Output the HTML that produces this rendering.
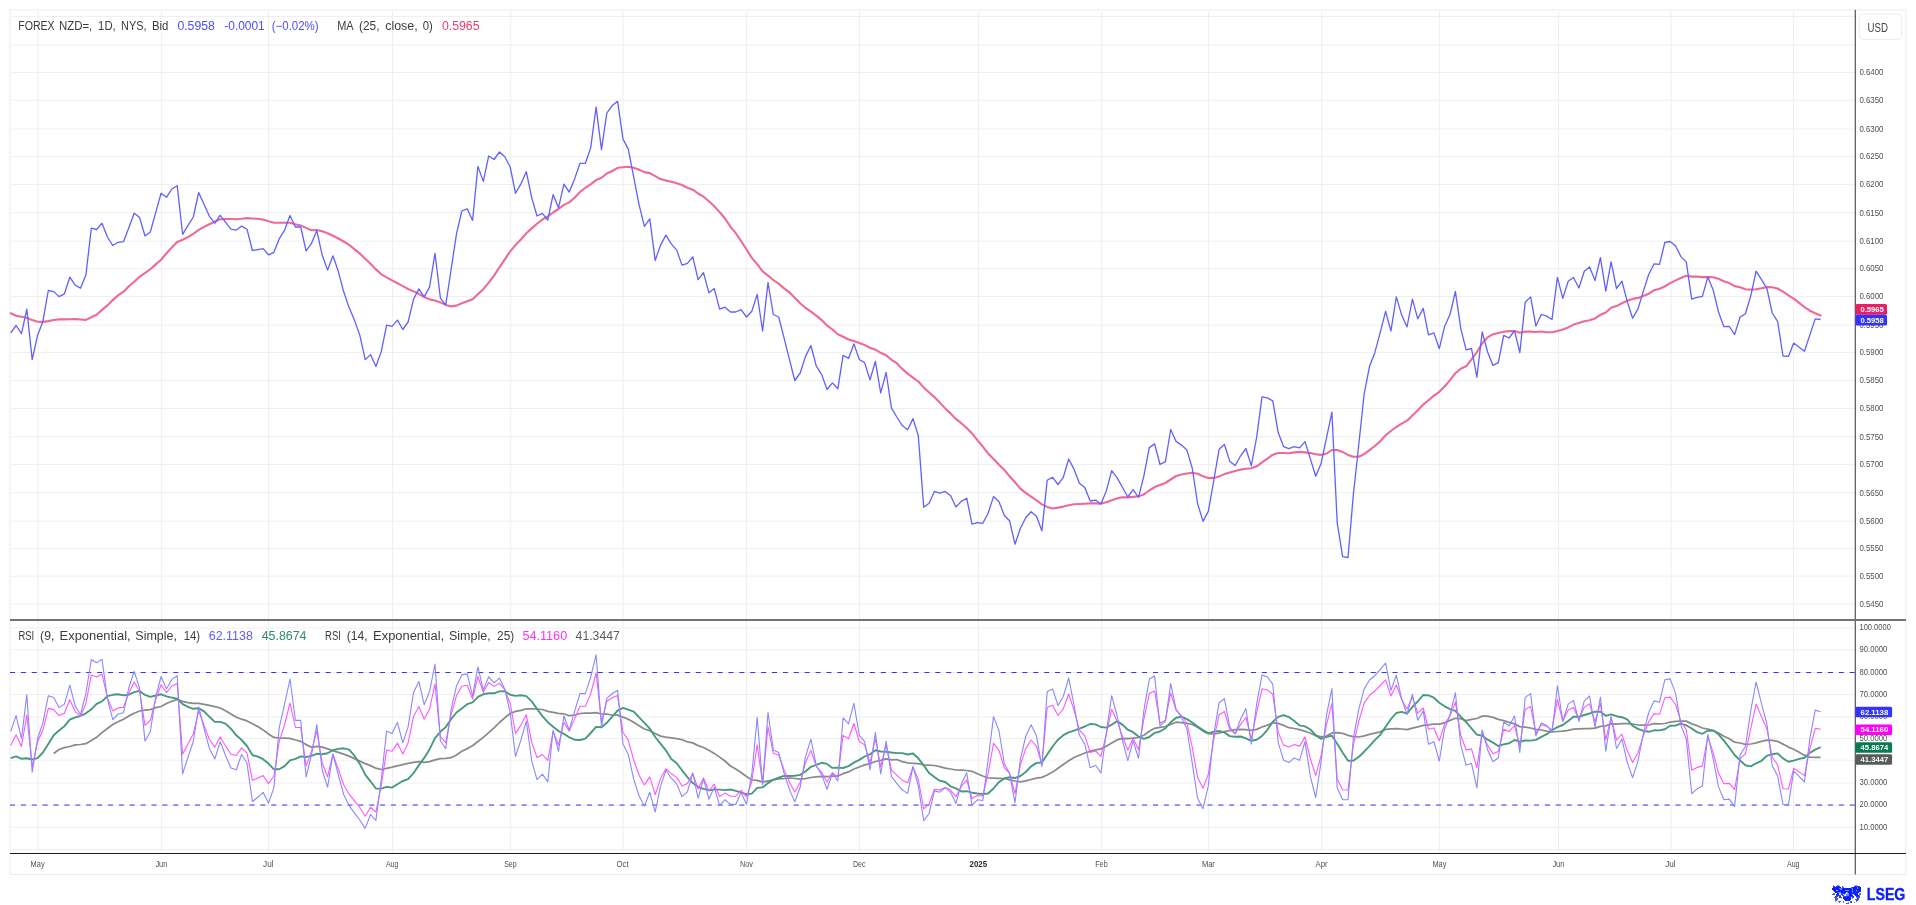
<!DOCTYPE html>
<html><head><meta charset="utf-8"><title>chart</title><style>html,body{margin:0;padding:0;background:#fff;width:1916px;height:905px;overflow:hidden}</style></head><body>
<svg width="1916" height="905" viewBox="0 0 1916 905" style="position:absolute;left:0;top:0;will-change:transform;font-family:'Liberation Sans',sans-serif">
<rect width="1916" height="905" fill="#fff"/>
<rect x="10" y="9.9" width="1895.9" height="864.6" fill="none" stroke="#ececec" stroke-width="1"/>
<line x1="38.1" y1="11" x2="38.1" y2="853" stroke="#efefef" stroke-width="1"/>
<line x1="161.6" y1="11" x2="161.6" y2="853" stroke="#efefef" stroke-width="1"/>
<line x1="268.5" y1="11" x2="268.5" y2="853" stroke="#efefef" stroke-width="1"/>
<line x1="392.5" y1="11" x2="392.5" y2="853" stroke="#efefef" stroke-width="1"/>
<line x1="510.7" y1="11" x2="510.7" y2="853" stroke="#efefef" stroke-width="1"/>
<line x1="623.0" y1="11" x2="623.0" y2="853" stroke="#efefef" stroke-width="1"/>
<line x1="746.6" y1="11" x2="746.6" y2="853" stroke="#efefef" stroke-width="1"/>
<line x1="859.5" y1="11" x2="859.5" y2="853" stroke="#efefef" stroke-width="1"/>
<line x1="978.6" y1="11" x2="978.6" y2="853" stroke="#efefef" stroke-width="1"/>
<line x1="1101.7" y1="11" x2="1101.7" y2="853" stroke="#efefef" stroke-width="1"/>
<line x1="1208.6" y1="11" x2="1208.6" y2="853" stroke="#efefef" stroke-width="1"/>
<line x1="1321.7" y1="11" x2="1321.7" y2="853" stroke="#efefef" stroke-width="1"/>
<line x1="1439.6" y1="11" x2="1439.6" y2="853" stroke="#efefef" stroke-width="1"/>
<line x1="1558.6" y1="11" x2="1558.6" y2="853" stroke="#efefef" stroke-width="1"/>
<line x1="1671.0" y1="11" x2="1671.0" y2="853" stroke="#efefef" stroke-width="1"/>
<line x1="1793.5" y1="11" x2="1793.5" y2="853" stroke="#efefef" stroke-width="1"/>
<line x1="11" y1="16.40" x2="1855" y2="16.40" stroke="#efefef" stroke-width="1"/>
<line x1="11" y1="45.00" x2="1855" y2="45.00" stroke="#efefef" stroke-width="1"/>
<line x1="11" y1="72.50" x2="1855" y2="72.50" stroke="#efefef" stroke-width="1"/>
<line x1="11" y1="100.25" x2="1855" y2="100.25" stroke="#efefef" stroke-width="1"/>
<line x1="11" y1="129.05" x2="1855" y2="129.05" stroke="#efefef" stroke-width="1"/>
<line x1="11" y1="156.60" x2="1855" y2="156.60" stroke="#efefef" stroke-width="1"/>
<line x1="11" y1="184.60" x2="1855" y2="184.60" stroke="#efefef" stroke-width="1"/>
<line x1="11" y1="212.70" x2="1855" y2="212.70" stroke="#efefef" stroke-width="1"/>
<line x1="11" y1="241.20" x2="1855" y2="241.20" stroke="#efefef" stroke-width="1"/>
<line x1="11" y1="268.65" x2="1855" y2="268.65" stroke="#efefef" stroke-width="1"/>
<line x1="11" y1="296.50" x2="1855" y2="296.50" stroke="#efefef" stroke-width="1"/>
<line x1="11" y1="325.20" x2="1855" y2="325.20" stroke="#efefef" stroke-width="1"/>
<line x1="11" y1="352.40" x2="1855" y2="352.40" stroke="#efefef" stroke-width="1"/>
<line x1="11" y1="380.50" x2="1855" y2="380.50" stroke="#efefef" stroke-width="1"/>
<line x1="11" y1="408.50" x2="1855" y2="408.50" stroke="#efefef" stroke-width="1"/>
<line x1="11" y1="436.70" x2="1855" y2="436.70" stroke="#efefef" stroke-width="1"/>
<line x1="11" y1="464.60" x2="1855" y2="464.60" stroke="#efefef" stroke-width="1"/>
<line x1="11" y1="492.70" x2="1855" y2="492.70" stroke="#efefef" stroke-width="1"/>
<line x1="11" y1="521.20" x2="1855" y2="521.20" stroke="#efefef" stroke-width="1"/>
<line x1="11" y1="548.40" x2="1855" y2="548.40" stroke="#efefef" stroke-width="1"/>
<line x1="11" y1="576.20" x2="1855" y2="576.20" stroke="#efefef" stroke-width="1"/>
<line x1="11" y1="603.90" x2="1855" y2="603.90" stroke="#efefef" stroke-width="1"/>
<line x1="11" y1="849.5" x2="1855" y2="849.5" stroke="#efefef" stroke-width="1"/>
<line x1="11" y1="827.3" x2="1855" y2="827.3" stroke="#efefef" stroke-width="1"/>
<line x1="11" y1="783.0" x2="1855" y2="783.0" stroke="#efefef" stroke-width="1"/>
<line x1="11" y1="760.2" x2="1855" y2="760.2" stroke="#efefef" stroke-width="1"/>
<line x1="11" y1="738.5" x2="1855" y2="738.5" stroke="#efefef" stroke-width="1"/>
<line x1="11" y1="716.9" x2="1855" y2="716.9" stroke="#efefef" stroke-width="1"/>
<line x1="11" y1="694.5" x2="1855" y2="694.5" stroke="#efefef" stroke-width="1"/>
<line x1="11" y1="649.7" x2="1855" y2="649.7" stroke="#efefef" stroke-width="1"/>
<line x1="11" y1="627.9" x2="1855" y2="627.9" stroke="#efefef" stroke-width="1"/>
<line x1="11" y1="805.05" x2="1855" y2="805.05" stroke="#efefef" stroke-width="1"/>
<line x1="10" y1="805.05" x2="1855" y2="805.05" stroke="#3333ff" stroke-width="1" stroke-dasharray="5 5.886"/>
<line x1="11" y1="672.50" x2="1855" y2="672.50" stroke="#efefef" stroke-width="1"/>
<line x1="10" y1="672.50" x2="1855" y2="672.50" stroke="#3333ff" stroke-width="1" stroke-dasharray="5 5.886"/>
<path d="M53.7 753.5 L59.0 749.5 L64.4 747.7 L69.8 746.5 L75.2 744.8 L80.5 744.5 L85.9 743.7 L91.3 740.5 L96.6 737.3 L102.0 732.6 L107.4 728.5 L112.8 724.5 L118.1 721.8 L123.5 719.3 L128.9 715.9 L134.2 713.2 L139.6 711.0 L145.0 710.2 L150.3 709.6 L155.7 707.7 L161.1 706.5 L166.5 703.5 L171.8 701.3 L177.2 699.5 L182.6 701.3 L187.9 702.6 L193.3 703.4 L198.7 703.3 L204.1 704.3 L209.4 705.4 L214.8 706.7 L220.2 708.0 L225.5 710.8 L230.9 713.9 L236.3 717.2 L241.6 719.2 L247.0 720.9 L252.4 723.8 L257.8 726.6 L263.1 729.9 L268.5 734.0 L273.9 737.4 L279.2 738.0 L284.6 738.2 L290.0 738.3 L295.4 740.0 L300.7 741.4 L306.1 744.6 L311.5 747.3 L316.8 746.4 L322.2 747.2 L327.6 748.9 L332.9 750.6 L338.3 752.4 L343.7 754.2 L349.1 756.1 L354.4 758.6 L359.8 761.1 L365.2 763.6 L370.5 765.6 L375.9 768.2 L381.3 769.5 L386.6 768.3 L392.0 767.2 L397.4 765.9 L402.8 764.7 L408.1 763.4 L413.5 762.4 L418.9 761.7 L424.2 762.3 L429.6 761.6 L435.0 759.8 L440.4 758.7 L445.7 758.3 L451.1 757.7 L456.5 755.0 L461.8 751.3 L467.2 748.6 L472.6 745.8 L477.9 741.5 L483.3 737.4 L488.7 732.7 L494.1 727.8 L499.4 722.5 L504.8 717.8 L510.2 713.5 L515.5 711.4 L520.9 710.4 L526.3 708.9 L531.7 708.9 L537.0 709.0 L542.4 709.5 L547.8 711.3 L553.1 712.3 L558.5 713.3 L563.9 713.8 L569.2 715.7 L574.6 715.0 L580.0 713.5 L585.4 713.2 L590.7 713.1 L596.1 712.6 L601.5 714.0 L606.8 714.1 L612.2 715.0 L617.6 715.1 L623.0 717.1 L628.3 719.2 L633.7 722.3 L639.1 725.7 L644.4 729.0 L649.8 730.7 L655.2 733.5 L660.5 736.1 L665.9 737.1 L671.3 737.8 L676.7 738.7 L682.0 739.7 L687.4 741.8 L692.8 742.9 L698.1 745.6 L703.5 747.5 L708.9 750.3 L714.3 753.4 L719.6 757.1 L725.0 761.0 L730.4 766.0 L735.7 768.9 L741.1 772.5 L746.5 776.5 L751.8 779.9 L757.2 780.4 L762.6 782.2 L768.0 780.8 L773.3 780.0 L778.7 778.8 L784.1 778.5 L789.4 778.0 L794.8 778.5 L800.2 779.1 L805.5 778.6 L810.9 777.5 L816.3 776.8 L821.7 776.3 L827.0 776.7 L832.4 776.0 L837.8 776.0 L843.1 773.7 L848.5 771.9 L853.9 769.0 L859.3 767.0 L864.6 764.9 L870.0 763.6 L875.4 761.5 L880.7 760.3 L886.1 758.8 L891.5 759.8 L896.8 759.5 L902.2 761.6 L907.6 762.8 L913.0 763.3 L918.3 763.7 L923.7 764.8 L929.1 765.2 L934.4 765.5 L939.8 766.6 L945.2 768.1 L950.6 769.0 L955.9 770.0 L961.3 770.2 L966.7 770.5 L972.0 771.3 L977.4 773.7 L982.8 776.0 L988.1 778.0 L993.5 778.1 L998.9 778.3 L1004.3 778.5 L1009.6 779.9 L1015.0 781.0 L1020.4 781.8 L1025.7 780.9 L1031.1 779.5 L1036.5 778.1 L1041.9 777.4 L1047.2 775.0 L1052.6 772.1 L1058.0 768.3 L1063.3 764.5 L1068.7 760.7 L1074.1 757.5 L1079.4 755.2 L1084.8 753.0 L1090.2 751.3 L1095.6 749.9 L1100.9 748.9 L1106.3 746.3 L1111.7 742.9 L1117.0 739.9 L1122.4 738.4 L1127.8 738.7 L1133.1 738.2 L1138.5 737.5 L1143.9 735.3 L1149.3 731.3 L1154.6 728.3 L1160.0 727.3 L1165.4 726.5 L1170.7 724.4 L1176.1 722.2 L1181.5 722.6 L1186.9 723.3 L1192.2 724.5 L1197.6 727.3 L1203.0 731.1 L1208.3 733.6 L1213.7 734.0 L1219.1 733.1 L1224.4 731.5 L1229.8 730.7 L1235.2 729.7 L1240.6 729.3 L1245.9 729.7 L1251.3 730.4 L1256.7 729.4 L1262.0 727.0 L1267.4 725.1 L1272.8 722.8 L1278.2 723.4 L1283.5 725.4 L1288.9 727.7 L1294.3 728.5 L1299.6 729.6 L1305.0 731.3 L1310.4 733.3 L1315.7 735.6 L1321.1 736.9 L1326.5 736.1 L1331.9 733.1 L1337.2 732.7 L1342.6 733.3 L1348.0 735.4 L1353.3 736.6 L1358.7 737.0 L1364.1 735.9 L1369.5 734.4 L1374.8 733.1 L1380.2 731.8 L1385.6 729.4 L1390.9 728.8 L1396.3 728.6 L1401.7 729.0 L1407.0 729.6 L1412.4 728.2 L1417.8 726.9 L1423.2 725.4 L1428.5 724.8 L1433.9 724.0 L1439.3 724.2 L1444.6 722.8 L1450.0 720.4 L1455.4 718.3 L1460.7 718.7 L1466.1 720.6 L1471.5 719.4 L1476.9 718.5 L1482.2 716.1 L1487.6 716.1 L1493.0 717.4 L1498.3 719.4 L1503.7 720.7 L1509.1 722.3 L1514.5 723.9 L1519.8 726.6 L1525.2 727.1 L1530.6 728.0 L1535.9 729.3 L1541.3 730.0 L1546.7 731.1 L1552.0 731.8 L1557.4 731.5 L1562.8 731.1 L1568.2 730.4 L1573.5 729.1 L1578.9 728.9 L1584.3 728.6 L1589.6 728.6 L1595.0 728.1 L1600.4 726.3 L1605.8 725.9 L1611.1 723.9 L1616.5 724.2 L1621.9 723.7 L1627.2 723.6 L1632.6 724.0 L1638.0 725.0 L1643.3 725.1 L1648.7 725.0 L1654.1 723.7 L1659.5 723.9 L1664.8 723.5 L1670.2 722.1 L1675.6 721.3 L1680.9 721.1 L1686.3 721.1 L1691.7 723.9 L1697.1 725.7 L1702.4 728.0 L1707.8 729.1 L1713.2 730.5 L1718.5 733.1 L1723.9 736.3 L1729.3 738.8 L1734.6 742.2 L1740.0 743.0 L1745.4 744.4 L1750.8 744.0 L1756.1 742.8 L1761.5 741.4 L1766.9 740.1 L1772.2 740.3 L1777.6 741.4 L1783.0 744.1 L1788.4 747.1 L1793.7 749.3 L1799.1 752.2 L1804.5 755.4 L1809.8 757.2 L1815.2 757.4 L1820.6 757.4" fill="none" stroke="#8a8a8a" stroke-width="1.75" stroke-linejoin="round"/>
<path d="M10.7 758.2 L16.1 756.4 L21.5 758.8 L26.8 758.3 L32.2 759.5 L37.6 758.1 L42.9 752.5 L48.3 744.1 L53.7 735.3 L59.0 730.5 L64.4 726.2 L69.8 719.6 L75.2 717.4 L80.5 716.0 L85.9 713.3 L91.3 709.3 L96.6 703.9 L102.0 701.4 L107.4 696.2 L112.8 694.8 L118.1 694.2 L123.5 695.4 L128.9 694.7 L134.2 692.1 L139.6 690.9 L145.0 694.9 L150.3 696.8 L155.7 695.5 L161.1 694.3 L166.5 696.4 L171.8 697.6 L177.2 698.7 L182.6 704.1 L187.9 706.8 L193.3 708.8 L198.7 708.3 L204.1 711.3 L209.4 716.8 L214.8 721.9 L220.2 721.9 L225.5 723.6 L230.9 728.7 L236.3 735.3 L241.6 740.0 L247.0 746.0 L252.4 755.0 L257.8 756.7 L263.1 759.2 L268.5 763.6 L273.9 769.3 L279.2 769.2 L284.6 766.1 L290.0 760.4 L295.4 758.8 L300.7 756.4 L306.1 757.0 L311.5 755.9 L316.8 753.8 L322.2 754.3 L327.6 753.3 L332.9 750.2 L338.3 748.9 L343.7 748.3 L349.1 749.6 L354.4 755.7 L359.8 763.9 L365.2 774.6 L370.5 781.3 L375.9 788.5 L381.3 788.6 L386.6 786.9 L392.0 787.6 L397.4 784.2 L402.8 781.0 L408.1 779.1 L413.5 773.2 L418.9 765.1 L424.2 757.9 L429.6 749.2 L435.0 738.1 L440.4 731.8 L445.7 727.1 L451.1 719.2 L456.5 712.5 L461.8 708.5 L467.2 704.2 L472.6 702.4 L477.9 696.9 L483.3 694.3 L488.7 693.2 L494.1 693.3 L499.4 691.4 L504.8 691.3 L510.2 694.7 L515.5 695.9 L520.9 695.3 L526.3 696.1 L531.7 701.4 L537.0 708.9 L542.4 716.1 L547.8 722.2 L553.1 726.7 L558.5 731.1 L563.9 733.9 L569.2 737.3 L574.6 739.7 L580.0 740.0 L585.4 738.6 L590.7 733.0 L596.1 726.9 L601.5 727.2 L606.8 722.8 L612.2 716.6 L617.6 710.7 L623.0 707.9 L628.3 709.7 L633.7 711.6 L639.1 717.4 L644.4 722.8 L649.8 728.6 L655.2 737.0 L660.5 743.6 L665.9 750.3 L671.3 759.1 L676.7 763.2 L682.0 770.2 L687.4 777.2 L692.8 783.1 L698.1 787.0 L703.5 788.8 L708.9 790.2 L714.3 789.6 L719.6 789.6 L725.0 790.1 L730.4 789.5 L735.7 790.8 L741.1 792.4 L746.5 794.3 L751.8 793.6 L757.2 787.9 L762.6 787.4 L768.0 783.1 L773.3 779.6 L778.7 777.7 L784.1 775.9 L789.4 776.0 L794.8 775.8 L800.2 774.9 L805.5 771.5 L810.9 766.8 L816.3 764.9 L821.7 762.8 L827.0 763.9 L832.4 767.9 L837.8 767.6 L843.1 768.0 L848.5 766.1 L853.9 762.6 L859.3 759.9 L864.6 756.5 L870.0 754.2 L875.4 750.3 L880.7 751.5 L886.1 751.7 L891.5 752.5 L896.8 753.1 L902.2 753.1 L907.6 754.5 L913.0 753.5 L918.3 758.3 L923.7 765.3 L929.1 773.1 L934.4 777.1 L939.8 780.7 L945.2 782.0 L950.6 786.3 L955.9 788.4 L961.3 791.5 L966.7 791.2 L972.0 792.7 L977.4 793.5 L982.8 794.0 L988.1 793.5 L993.5 788.5 L998.9 782.1 L1004.3 778.5 L1009.6 777.3 L1015.0 778.0 L1020.4 776.0 L1025.7 772.0 L1031.1 766.4 L1036.5 762.9 L1041.9 762.5 L1047.2 754.4 L1052.6 746.5 L1058.0 739.7 L1063.3 735.2 L1068.7 732.4 L1074.1 730.6 L1079.4 728.6 L1084.8 726.5 L1090.2 724.0 L1095.6 724.4 L1100.9 727.0 L1106.3 727.6 L1111.7 724.7 L1117.0 721.1 L1122.4 724.6 L1127.8 729.7 L1133.1 732.2 L1138.5 736.6 L1143.9 738.9 L1149.3 737.0 L1154.6 732.8 L1160.0 731.5 L1165.4 728.2 L1170.7 722.3 L1176.1 717.8 L1181.5 716.7 L1186.9 719.1 L1192.2 722.5 L1197.6 726.6 L1203.0 730.0 L1208.3 733.3 L1213.7 731.6 L1219.1 731.0 L1224.4 732.4 L1229.8 736.1 L1235.2 736.7 L1240.6 736.5 L1245.9 738.3 L1251.3 740.8 L1256.7 739.8 L1262.0 735.9 L1267.4 729.8 L1272.8 721.7 L1278.2 716.9 L1283.5 715.1 L1288.9 717.1 L1294.3 721.0 L1299.6 725.4 L1305.0 726.4 L1310.4 729.5 L1315.7 735.1 L1321.1 738.9 L1326.5 736.8 L1331.9 735.8 L1337.2 743.8 L1342.6 752.6 L1348.0 760.8 L1353.3 760.6 L1358.7 757.0 L1364.1 751.7 L1369.5 746.1 L1374.8 740.1 L1380.2 734.9 L1385.6 726.8 L1390.9 719.2 L1396.3 713.0 L1401.7 711.9 L1407.0 713.7 L1412.4 707.0 L1417.8 701.4 L1423.2 695.0 L1428.5 695.4 L1433.9 697.7 L1439.3 702.8 L1444.6 706.3 L1450.0 709.1 L1455.4 710.8 L1460.7 716.6 L1466.1 722.0 L1471.5 728.3 L1476.9 734.6 L1482.2 735.7 L1487.6 739.7 L1493.0 742.6 L1498.3 746.0 L1503.7 744.4 L1509.1 743.3 L1514.5 740.0 L1519.8 741.7 L1525.2 740.5 L1530.6 740.6 L1535.9 739.9 L1541.3 736.9 L1546.7 734.2 L1552.0 730.2 L1557.4 727.1 L1562.8 725.0 L1568.2 720.9 L1573.5 716.8 L1578.9 716.8 L1584.3 715.0 L1589.6 713.5 L1595.0 711.7 L1600.4 711.7 L1605.8 715.8 L1611.1 714.4 L1616.5 716.2 L1621.9 717.2 L1627.2 719.4 L1632.6 725.9 L1638.0 728.8 L1643.3 730.9 L1648.7 731.8 L1654.1 730.3 L1659.5 730.4 L1664.8 729.2 L1670.2 725.8 L1675.6 725.5 L1680.9 723.7 L1686.3 725.3 L1691.7 728.5 L1697.1 732.1 L1702.4 733.8 L1707.8 730.7 L1713.2 730.5 L1718.5 734.3 L1723.9 740.6 L1729.3 747.6 L1734.6 755.0 L1740.0 760.4 L1745.4 765.2 L1750.8 766.4 L1756.1 763.3 L1761.5 760.8 L1766.9 755.8 L1772.2 754.2 L1777.6 753.4 L1783.0 758.4 L1788.4 761.7 L1793.7 760.6 L1799.1 758.9 L1804.5 757.7 L1809.8 752.9 L1815.2 749.6 L1820.6 747.2" fill="none" stroke="#469a7d" stroke-width="1.9" stroke-linejoin="round"/>
<path d="M10.7 745.4 L16.1 734.7 L21.5 746.5 L26.8 715.0 L32.2 766.5 L37.6 741.9 L42.9 730.1 L48.3 708.4 L53.7 709.6 L59.0 715.6 L64.4 713.2 L69.8 699.8 L75.2 711.6 L80.5 716.3 L85.9 703.4 L91.3 675.1 L96.6 677.1 L102.0 674.0 L107.4 697.7 L112.8 710.9 L118.1 707.9 L123.5 707.2 L128.9 693.0 L134.2 681.9 L139.6 691.4 L145.0 725.4 L150.3 720.4 L155.7 699.6 L161.1 684.8 L166.5 692.6 L171.8 686.0 L177.2 683.5 L182.6 754.1 L187.9 743.9 L193.3 733.9 L198.7 710.7 L204.1 725.7 L209.4 739.5 L214.8 747.1 L220.2 737.0 L225.5 745.8 L230.9 754.3 L236.3 755.5 L241.6 747.9 L247.0 753.0 L252.4 780.3 L257.8 778.1 L263.1 775.6 L268.5 783.6 L273.9 776.0 L279.2 741.6 L284.6 724.6 L290.0 703.0 L295.4 727.5 L300.7 727.5 L306.1 765.9 L311.5 751.6 L316.8 730.9 L322.2 763.0 L327.6 776.7 L332.9 754.2 L338.3 769.2 L343.7 784.7 L349.1 794.2 L354.4 800.7 L359.8 807.5 L365.2 816.2 L370.5 807.3 L375.9 812.0 L381.3 785.5 L386.6 750.0 L392.0 751.3 L397.4 743.1 L402.8 753.9 L408.1 743.0 L413.5 716.4 L418.9 706.6 L424.2 719.2 L429.6 708.9 L435.0 684.1 L440.4 736.6 L445.7 742.6 L451.1 714.8 L456.5 695.7 L461.8 686.2 L467.2 685.3 L472.6 699.1 L477.9 676.7 L483.3 692.4 L488.7 682.5 L494.1 686.4 L499.4 683.2 L504.8 689.6 L510.2 703.5 L515.5 733.4 L520.9 725.1 L526.3 714.8 L531.7 742.2 L537.0 757.5 L542.4 754.5 L547.8 760.4 L553.1 731.4 L558.5 745.0 L563.9 722.3 L569.2 731.1 L574.6 718.9 L580.0 706.2 L585.4 706.2 L590.7 693.9 L596.1 672.8 L601.5 721.7 L606.8 701.3 L612.2 697.7 L617.6 695.5 L623.0 732.3 L628.3 740.3 L633.7 760.0 L639.1 775.2 L644.4 784.9 L649.8 776.9 L655.2 794.6 L660.5 778.7 L665.9 768.7 L671.3 773.7 L676.7 777.4 L682.0 786.0 L687.4 783.4 L692.8 773.4 L698.1 788.9 L703.5 777.9 L708.9 791.0 L714.3 784.1 L719.6 796.5 L725.0 793.1 L730.4 796.2 L735.7 796.2 L741.1 790.4 L746.5 796.9 L751.8 781.5 L757.2 744.8 L762.6 783.6 L768.0 726.9 L773.3 753.3 L778.7 755.1 L784.1 769.9 L789.4 782.0 L794.8 792.1 L800.2 782.5 L805.5 762.5 L810.9 750.4 L816.3 766.5 L821.7 772.3 L827.0 782.0 L832.4 772.6 L837.8 777.1 L843.1 735.4 L848.5 738.7 L853.9 723.5 L859.3 741.5 L864.6 744.9 L870.0 762.6 L875.4 739.0 L880.7 766.9 L886.1 744.7 L891.5 770.1 L896.8 775.2 L902.2 780.2 L907.6 782.8 L913.0 766.9 L918.3 779.5 L923.7 808.8 L929.1 804.0 L934.4 789.2 L939.8 790.1 L945.2 787.4 L950.6 790.1 L955.9 796.8 L961.3 786.3 L966.7 780.1 L972.0 798.6 L977.4 795.6 L982.8 796.0 L988.1 773.4 L993.5 743.4 L998.9 750.1 L1004.3 767.6 L1009.6 773.4 L1015.0 793.6 L1020.4 764.8 L1025.7 748.6 L1031.1 740.0 L1036.5 746.3 L1041.9 764.6 L1047.2 707.5 L1052.6 705.2 L1058.0 715.5 L1063.3 708.8 L1068.7 693.9 L1074.1 710.5 L1079.4 729.9 L1084.8 735.8 L1090.2 752.4 L1095.6 751.0 L1100.9 756.3 L1106.3 734.4 L1111.7 709.2 L1117.0 720.9 L1122.4 736.3 L1127.8 750.0 L1133.1 738.3 L1138.5 749.6 L1143.9 718.9 L1149.3 693.6 L1154.6 690.9 L1160.0 723.3 L1165.4 720.3 L1170.7 693.1 L1176.1 710.4 L1181.5 715.7 L1186.9 723.2 L1192.2 746.8 L1197.6 777.6 L1203.0 788.2 L1208.3 774.1 L1213.7 739.5 L1219.1 714.8 L1224.4 711.5 L1229.8 729.5 L1235.2 733.7 L1240.6 724.4 L1245.9 717.5 L1251.3 738.8 L1256.7 712.3 L1262.0 688.8 L1267.4 690.0 L1272.8 694.3 L1278.2 732.1 L1283.5 745.1 L1288.9 746.9 L1294.3 744.5 L1299.6 746.1 L1305.0 736.9 L1310.4 758.9 L1315.7 775.6 L1321.1 755.5 L1326.5 724.7 L1331.9 703.6 L1337.2 778.9 L1342.6 789.8 L1348.0 790.0 L1353.3 745.4 L1358.7 721.5 L1364.1 703.4 L1369.5 695.2 L1374.8 691.2 L1380.2 685.5 L1385.6 679.8 L1390.9 695.9 L1396.3 685.0 L1401.7 699.6 L1407.0 709.0 L1412.4 697.1 L1417.8 713.2 L1423.2 708.0 L1428.5 729.3 L1433.9 728.0 L1439.3 740.8 L1444.6 724.1 L1450.0 716.0 L1455.4 702.1 L1460.7 735.0 L1466.1 750.0 L1471.5 748.9 L1476.9 767.6 L1482.2 731.9 L1487.6 745.4 L1493.0 753.8 L1498.3 751.5 L1503.7 729.3 L1509.1 731.6 L1514.5 725.5 L1519.8 746.4 L1525.2 709.5 L1530.6 706.5 L1535.9 733.1 L1541.3 724.8 L1546.7 726.3 L1552.0 729.9 L1557.4 699.4 L1562.8 721.3 L1568.2 710.0 L1573.5 707.5 L1578.9 719.8 L1584.3 707.1 L1589.6 703.9 L1595.0 722.0 L1600.4 703.4 L1605.8 739.6 L1611.1 717.1 L1616.5 740.0 L1621.9 734.1 L1627.2 750.5 L1632.6 762.4 L1638.0 752.7 L1643.3 735.9 L1648.7 721.8 L1654.1 713.6 L1659.5 714.3 L1664.8 697.8 L1670.2 697.1 L1675.6 704.5 L1680.9 721.5 L1686.3 729.6 L1691.7 770.1 L1697.1 767.4 L1702.4 765.9 L1707.8 736.9 L1713.2 752.6 L1718.5 773.1 L1723.9 783.8 L1729.3 783.4 L1734.6 789.6 L1740.0 759.1 L1745.4 753.6 L1750.8 728.4 L1756.1 704.1 L1761.5 716.8 L1766.9 729.0 L1772.2 757.0 L1777.6 764.7 L1783.0 788.7 L1788.4 789.0 L1793.7 768.4 L1799.1 771.9 L1804.5 775.6 L1809.8 749.2 L1815.2 728.4 L1820.6 729.3" fill="none" stroke="#ff55ff" stroke-width="1.1" stroke-linejoin="round"/>
<path d="M10.7 731.3 L16.1 715.6 L21.5 738.6 L26.8 694.9 L32.2 772.1 L37.6 738.5 L42.9 722.8 L48.3 695.7 L53.7 697.6 L59.0 707.6 L64.4 704.1 L69.8 685.1 L75.2 706.1 L80.5 714.5 L85.9 693.7 L91.3 659.5 L96.6 662.8 L102.0 659.4 L107.4 698.9 L112.8 719.6 L118.1 714.0 L123.5 712.7 L128.9 687.5 L134.2 671.3 L139.6 688.0 L145.0 741.1 L150.3 731.7 L155.7 697.0 L161.1 676.5 L166.5 688.9 L171.8 679.4 L177.2 675.7 L182.6 773.9 L187.9 757.5 L193.3 741.5 L198.7 706.9 L204.1 728.9 L209.4 748.4 L214.8 759.0 L220.2 741.7 L225.5 755.2 L230.9 768.0 L236.3 769.7 L241.6 754.5 L247.0 763.3 L252.4 801.5 L257.8 797.3 L263.1 792.3 L268.5 803.2 L273.9 787.6 L279.2 727.7 L284.6 704.2 L290.0 679.0 L295.4 720.4 L300.7 720.4 L306.1 777.0 L311.5 754.8 L316.8 724.6 L322.2 770.0 L327.6 787.1 L332.9 754.1 L338.3 774.8 L343.7 794.5 L349.1 805.6 L354.4 812.8 L359.8 820.0 L365.2 828.4 L370.5 814.5 L375.9 820.4 L381.3 779.3 L386.6 731.1 L392.0 733.4 L397.4 722.3 L402.8 742.9 L408.1 726.8 L413.5 692.5 L418.9 681.6 L424.2 704.7 L429.6 691.1 L435.0 664.0 L440.4 740.7 L445.7 748.7 L451.1 709.5 L456.5 685.9 L461.8 674.9 L467.2 673.9 L472.6 696.1 L477.9 666.9 L483.3 690.2 L488.7 676.8 L494.1 682.9 L499.4 678.1 L504.8 689.2 L510.2 712.7 L515.5 756.5 L520.9 740.2 L526.3 721.1 L531.7 760.7 L537.0 779.7 L542.4 774.1 L547.8 781.9 L553.1 730.2 L558.5 751.4 L563.9 716.0 L569.2 730.2 L574.6 711.4 L580.0 693.6 L585.4 693.6 L590.7 677.0 L596.1 654.9 L601.5 726.5 L606.8 698.4 L612.2 693.5 L617.6 690.4 L623.0 743.9 L628.3 754.4 L633.7 779.1 L639.1 796.0 L644.4 806.1 L649.8 792.3 L655.2 812.0 L660.5 786.4 L665.9 770.3 L671.3 778.2 L676.7 783.9 L682.0 796.7 L687.4 791.8 L692.8 773.0 L698.1 798.3 L703.5 778.9 L708.9 799.2 L714.3 787.1 L719.6 805.6 L725.0 799.6 L730.4 804.4 L735.7 804.4 L741.1 792.5 L746.5 804.3 L751.8 774.2 L757.2 717.4 L762.6 784.6 L768.0 712.5 L773.3 749.9 L778.7 752.5 L784.1 773.3 L789.4 789.4 L794.8 801.9 L800.2 787.0 L805.5 756.6 L810.9 739.1 L816.3 765.7 L821.7 774.9 L827.0 789.3 L832.4 773.5 L837.8 780.9 L843.1 717.8 L848.5 723.8 L853.9 703.4 L859.3 735.4 L864.6 741.3 L870.0 769.8 L875.4 732.3 L880.7 774.0 L886.1 741.2 L891.5 776.7 L896.8 783.3 L902.2 789.9 L907.6 793.4 L913.0 766.4 L918.3 786.0 L923.7 820.7 L929.1 813.5 L934.4 790.9 L939.8 792.2 L945.2 787.7 L950.6 792.3 L955.9 803.5 L961.3 784.2 L966.7 772.8 L972.0 805.1 L977.4 799.8 L982.8 800.5 L988.1 760.1 L993.5 716.6 L998.9 730.5 L1004.3 763.5 L1009.6 773.4 L1015.0 802.8 L1020.4 759.1 L1025.7 736.5 L1031.1 724.7 L1036.5 736.1 L1041.9 766.8 L1047.2 691.4 L1052.6 688.9 L1058.0 705.5 L1063.3 696.5 L1068.7 678.0 L1074.1 705.3 L1079.4 735.3 L1084.8 744.1 L1090.2 767.8 L1095.6 765.2 L1100.9 773.0 L1106.3 732.8 L1111.7 695.7 L1117.0 715.5 L1122.4 740.2 L1127.8 760.6 L1133.1 740.6 L1138.5 758.3 L1143.9 710.3 L1149.3 679.1 L1154.6 676.1 L1160.0 725.8 L1165.4 721.2 L1170.7 683.6 L1176.1 709.4 L1181.5 717.4 L1186.9 729.0 L1192.2 762.9 L1197.6 798.3 L1203.0 808.7 L1208.3 785.9 L1213.7 734.6 L1219.1 702.7 L1224.4 698.7 L1229.8 727.2 L1235.2 733.8 L1240.6 719.1 L1245.9 708.5 L1251.3 744.2 L1256.7 703.7 L1262.0 675.0 L1267.4 677.0 L1272.8 684.2 L1278.2 742.6 L1283.5 760.0 L1288.9 762.5 L1294.3 757.9 L1299.6 760.3 L1305.0 741.6 L1310.4 776.6 L1315.7 797.5 L1321.1 761.7 L1326.5 715.2 L1331.9 688.6 L1337.2 787.8 L1342.6 799.6 L1348.0 799.8 L1353.3 738.7 L1358.7 709.6 L1364.1 689.1 L1369.5 680.0 L1374.8 675.7 L1380.2 669.3 L1385.6 663.1 L1390.9 690.4 L1396.3 675.2 L1401.7 699.1 L1407.0 714.3 L1412.4 694.4 L1417.8 720.3 L1423.2 711.0 L1428.5 744.3 L1433.9 741.7 L1439.3 761.0 L1444.6 728.7 L1450.0 714.7 L1455.4 692.7 L1460.7 744.8 L1466.1 765.3 L1471.5 763.3 L1476.9 787.9 L1482.2 729.9 L1487.6 749.7 L1493.0 761.8 L1498.3 757.8 L1503.7 722.0 L1509.1 726.0 L1514.5 716.1 L1519.8 752.4 L1525.2 697.4 L1530.6 693.6 L1535.9 736.0 L1541.3 723.0 L1546.7 725.5 L1552.0 731.8 L1557.4 685.7 L1562.8 721.0 L1568.2 704.1 L1573.5 700.5 L1578.9 721.4 L1584.3 700.8 L1589.6 696.0 L1595.0 727.3 L1600.4 697.0 L1605.8 751.2 L1611.1 716.5 L1616.5 748.5 L1621.9 739.1 L1627.2 762.1 L1632.6 777.7 L1638.0 761.0 L1643.3 733.6 L1648.7 712.5 L1654.1 700.9 L1659.5 702.3 L1664.8 679.8 L1670.2 678.9 L1675.6 693.6 L1680.9 725.2 L1686.3 739.1 L1691.7 793.7 L1697.1 788.8 L1702.4 785.9 L1707.8 734.3 L1713.2 759.0 L1718.5 786.9 L1723.9 799.7 L1729.3 799.1 L1734.6 806.6 L1740.0 755.1 L1745.4 746.5 L1750.8 710.4 L1756.1 682.0 L1761.5 703.6 L1766.9 723.8 L1772.2 765.5 L1777.6 775.9 L1783.0 804.3 L1788.4 804.6 L1793.7 771.1 L1799.1 776.3 L1804.5 782.0 L1809.8 738.9 L1815.2 710.1 L1820.6 711.7" fill="none" stroke="#8888ff" stroke-width="1.1" stroke-linejoin="round"/>
<path d="M10.7 313.3 L16.1 315.8 L21.5 316.7 L26.8 317.7 L32.2 320.1 L37.6 321.8 L42.9 321.9 L48.3 321.1 L53.7 320.0 L59.0 319.4 L64.4 319.4 L69.8 319.3 L75.2 319.1 L80.5 319.5 L85.9 319.9 L91.3 317.2 L96.6 314.7 L102.0 309.9 L107.4 305.4 L112.8 300.1 L118.1 295.4 L123.5 291.7 L128.9 286.2 L134.2 281.7 L139.6 276.8 L145.0 273.0 L150.3 269.2 L155.7 264.4 L161.1 259.7 L166.5 253.3 L171.8 247.4 L177.2 242.0 L182.6 239.7 L187.9 237.1 L193.3 233.9 L198.7 229.9 L204.1 226.9 L209.4 224.2 L214.8 221.6 L220.2 219.2 L225.5 219.0 L230.9 219.0 L236.3 219.2 L241.6 218.8 L247.0 218.1 L252.4 218.5 L257.8 218.8 L263.1 219.6 L268.5 221.3 L273.9 222.7 L279.2 222.8 L284.6 222.7 L290.0 222.8 L295.4 224.2 L300.7 225.4 L306.1 227.9 L311.5 230.2 L316.8 230.0 L322.2 231.2 L327.6 233.3 L332.9 235.8 L338.3 238.5 L343.7 241.5 L349.1 244.9 L354.4 249.1 L359.8 253.6 L365.2 258.8 L370.5 263.8 L375.9 269.4 L381.3 274.3 L386.6 277.3 L392.0 280.4 L397.4 283.2 L402.8 286.2 L408.1 289.0 L413.5 291.4 L418.9 293.8 L424.2 297.0 L429.6 299.4 L435.0 300.5 L440.4 302.4 L445.7 304.9 L451.1 306.4 L456.5 305.6 L461.8 303.2 L467.2 301.3 L472.6 299.3 L477.9 294.3 L483.3 289.2 L488.7 282.7 L494.1 275.6 L499.4 267.3 L504.8 259.4 L510.2 251.4 L515.5 245.1 L520.9 239.5 L526.3 233.3 L531.7 228.4 L537.0 223.8 L542.4 219.5 L547.8 216.3 L553.1 212.5 L558.5 209.0 L563.9 204.9 L569.2 202.4 L574.6 197.7 L580.0 192.0 L585.4 187.7 L590.7 184.3 L596.1 180.1 L601.5 177.8 L606.8 173.5 L612.2 171.0 L617.6 167.8 L623.0 167.2 L628.3 166.7 L633.7 167.8 L639.1 169.7 L644.4 172.1 L649.8 173.1 L655.2 176.1 L660.5 179.1 L665.9 180.6 L671.3 181.7 L676.7 183.2 L682.0 185.0 L687.4 187.7 L692.8 189.7 L698.1 193.5 L703.5 196.7 L708.9 201.3 L714.3 206.3 L719.6 212.1 L725.0 218.5 L730.4 226.7 L735.7 233.2 L741.1 241.0 L746.5 249.5 L751.8 257.9 L757.2 264.1 L762.6 271.4 L768.0 275.6 L773.3 280.0 L778.7 283.6 L784.1 288.4 L789.4 292.3 L794.8 297.7 L800.2 303.3 L805.5 307.8 L810.9 311.6 L816.3 315.6 L821.7 320.1 L827.0 325.4 L832.4 329.5 L837.8 334.2 L843.1 336.7 L848.5 339.5 L853.9 340.9 L859.3 342.9 L864.6 345.0 L870.0 347.7 L875.4 349.7 L880.7 352.8 L886.1 355.2 L891.5 359.8 L896.8 363.2 L902.2 368.9 L907.6 373.6 L913.0 377.6 L918.3 381.5 L923.7 387.4 L929.1 392.4 L934.4 397.1 L939.8 402.6 L945.2 408.4 L950.6 413.6 L955.9 418.9 L961.3 423.3 L966.7 428.0 L972.0 433.4 L977.4 440.1 L982.8 446.7 L988.1 453.4 L993.5 458.9 L998.9 464.5 L1004.3 469.9 L1009.6 476.3 L1015.0 482.3 L1020.4 488.6 L1025.7 492.9 L1031.1 496.7 L1036.5 500.4 L1041.9 504.4 L1047.2 506.9 L1052.6 508.5 L1058.0 507.6 L1063.3 506.6 L1068.7 505.3 L1074.1 504.3 L1079.4 504.0 L1084.8 503.7 L1090.2 503.4 L1095.6 503.4 L1100.9 503.6 L1106.3 502.3 L1111.7 500.2 L1117.0 498.4 L1122.4 497.3 L1127.8 497.4 L1133.1 496.9 L1138.5 496.2 L1143.9 494.4 L1149.3 490.5 L1154.6 487.1 L1160.0 485.0 L1165.4 483.0 L1170.7 479.5 L1176.1 476.0 L1181.5 474.5 L1186.9 473.5 L1192.2 472.8 L1197.6 473.8 L1203.0 476.3 L1208.3 478.0 L1213.7 477.9 L1219.1 476.4 L1224.4 474.1 L1229.8 472.6 L1235.2 471.1 L1240.6 469.6 L1245.9 468.8 L1251.3 468.3 L1256.7 466.3 L1262.0 462.3 L1267.4 458.6 L1272.8 454.7 L1278.2 453.0 L1283.5 453.0 L1288.9 453.2 L1294.3 452.4 L1299.6 451.9 L1305.0 452.4 L1310.4 453.1 L1315.7 454.3 L1321.1 454.9 L1326.5 453.6 L1331.9 450.0 L1337.2 450.0 L1342.6 451.9 L1348.0 454.9 L1353.3 456.7 L1358.7 456.8 L1364.1 454.1 L1369.5 450.1 L1374.8 446.0 L1380.2 441.4 L1385.6 435.2 L1390.9 431.0 L1396.3 427.0 L1401.7 423.6 L1407.0 420.7 L1412.4 415.4 L1417.8 410.2 L1423.2 404.6 L1428.5 400.2 L1433.9 395.6 L1439.3 391.8 L1444.6 386.5 L1450.0 380.1 L1455.4 373.2 L1460.7 368.8 L1466.1 366.3 L1471.5 359.4 L1476.9 352.2 L1482.2 343.2 L1487.6 337.4 L1493.0 334.2 L1498.3 333.0 L1503.7 331.7 L1509.1 331.1 L1514.5 331.1 L1519.8 332.7 L1525.2 331.6 L1530.6 331.6 L1535.9 332.0 L1541.3 331.5 L1546.7 332.2 L1552.0 332.2 L1557.4 331.0 L1562.8 329.5 L1568.2 327.4 L1573.5 324.6 L1578.9 323.1 L1584.3 321.3 L1589.6 320.3 L1595.0 318.4 L1600.4 314.8 L1605.8 312.5 L1611.1 307.8 L1616.5 306.1 L1621.9 303.3 L1627.2 300.7 L1632.6 298.9 L1638.0 297.9 L1643.3 296.0 L1648.7 293.8 L1654.1 290.2 L1659.5 288.7 L1664.8 286.5 L1670.2 283.1 L1675.6 280.4 L1680.9 278.0 L1686.3 275.7 L1691.7 276.6 L1697.1 276.5 L1702.4 277.1 L1707.8 277.1 L1713.2 277.2 L1718.5 278.8 L1723.9 281.2 L1729.3 283.1 L1734.6 286.1 L1740.0 287.2 L1745.4 289.3 L1750.8 289.6 L1756.1 289.2 L1761.5 288.3 L1766.9 287.1 L1772.2 287.3 L1777.6 288.5 L1783.0 291.7 L1788.4 295.4 L1793.7 298.6 L1799.1 302.8 L1804.5 307.1 L1809.8 310.7 L1815.2 313.2 L1820.6 315.5" fill="none" stroke="#f06996" stroke-width="2.1" stroke-linejoin="round" stroke-linecap="round"/>
<path d="M10.7 332.9 L16.1 325.5 L21.5 333.7 L26.8 309.1 L32.2 359.6 L37.6 335.2 L42.9 321.4 L48.3 290.5 L53.7 291.6 L59.0 296.6 L64.4 293.8 L69.8 277.2 L75.2 285.1 L80.5 288.2 L85.9 275.0 L91.3 228.2 L96.6 229.5 L102.0 223.2 L107.4 237.0 L112.8 245.5 L118.1 242.3 L123.5 241.7 L128.9 227.4 L134.2 213.2 L139.6 217.6 L145.0 236.0 L150.3 232.0 L155.7 212.6 L161.1 193.2 L166.5 197.3 L171.8 189.0 L177.2 185.7 L182.6 234.3 L187.9 225.7 L193.3 217.0 L198.7 192.5 L204.1 204.4 L209.4 216.3 L214.8 223.2 L220.2 215.3 L225.5 222.2 L230.9 229.2 L236.3 230.1 L241.6 226.1 L247.0 229.2 L252.4 250.5 L257.8 249.6 L263.1 248.6 L268.5 254.8 L273.9 252.3 L279.2 238.9 L284.6 230.1 L290.0 215.5 L295.4 227.0 L300.7 227.0 L306.1 250.8 L311.5 243.3 L316.8 230.7 L322.2 255.2 L327.6 270.1 L332.9 255.8 L338.3 271.3 L343.7 291.8 L349.1 307.6 L354.4 320.1 L359.8 335.1 L365.2 359.6 L370.5 354.6 L375.9 366.5 L381.3 351.4 L386.6 325.1 L392.0 326.4 L397.4 320.1 L402.8 329.5 L408.1 322.0 L413.5 299.4 L418.9 288.8 L424.2 296.9 L429.6 286.9 L435.0 253.3 L440.4 298.2 L445.7 305.1 L451.1 269.5 L456.5 233.9 L461.8 211.0 L467.2 208.8 L472.6 220.4 L477.9 166.4 L483.3 181.4 L488.7 156.0 L494.1 159.5 L499.4 152.0 L504.8 156.8 L510.2 167.0 L515.5 193.3 L520.9 183.9 L526.3 171.7 L531.7 197.6 L537.0 216.0 L542.4 213.4 L547.8 220.0 L553.1 194.6 L558.5 207.8 L563.9 184.2 L569.2 192.1 L574.6 178.9 L580.0 163.3 L585.4 163.3 L590.7 147.6 L596.1 107.2 L601.5 149.7 L606.8 113.2 L612.2 105.6 L617.6 101.3 L623.0 139.1 L628.3 149.1 L633.7 177.2 L639.1 204.9 L644.4 226.3 L649.8 218.8 L655.2 260.5 L660.5 245.1 L665.9 235.1 L671.3 243.9 L676.7 250.1 L682.0 265.1 L687.4 263.3 L692.8 256.8 L698.1 279.6 L703.5 272.6 L708.9 292.8 L714.3 288.6 L719.6 309.1 L725.0 307.2 L730.4 312.0 L735.7 312.0 L741.1 309.7 L746.5 317.0 L751.8 311.3 L757.2 294.4 L762.6 331.0 L768.0 282.5 L773.3 314.5 L778.7 317.0 L784.1 338.2 L789.4 359.3 L794.8 380.5 L800.2 373.0 L805.5 356.4 L810.9 345.5 L816.3 366.2 L821.7 374.6 L827.0 389.5 L832.4 382.9 L837.8 388.8 L843.1 355.4 L848.5 358.5 L853.9 343.9 L859.3 359.5 L864.6 362.6 L870.0 379.9 L875.4 361.3 L880.7 392.8 L886.1 372.5 L891.5 408.2 L896.8 417.0 L902.2 425.5 L907.6 429.8 L913.0 418.6 L918.3 435.8 L923.7 507.3 L929.1 503.3 L934.4 491.4 L939.8 493.2 L945.2 491.4 L950.6 495.7 L955.9 507.0 L961.3 501.4 L966.7 498.2 L972.0 524.2 L977.4 522.7 L982.8 523.3 L988.1 513.3 L993.5 496.6 L998.9 501.4 L1004.3 515.5 L1009.6 520.8 L1015.0 544.2 L1020.4 528.3 L1025.7 517.7 L1031.1 511.7 L1036.5 516.2 L1041.9 530.8 L1047.2 480.3 L1052.6 477.3 L1058.0 484.5 L1063.3 477.3 L1068.7 459.0 L1074.1 469.4 L1079.4 483.2 L1084.8 487.6 L1090.2 501.0 L1095.6 500.1 L1100.9 504.1 L1106.3 491.1 L1111.7 470.7 L1117.0 477.6 L1122.4 487.3 L1127.8 497.0 L1133.1 489.7 L1138.5 497.3 L1143.9 475.8 L1149.3 447.6 L1154.6 443.9 L1160.0 464.5 L1165.4 461.7 L1170.7 429.5 L1176.1 441.4 L1181.5 445.1 L1186.9 450.1 L1192.2 468.0 L1197.6 503.5 L1203.0 521.4 L1208.3 511.4 L1213.7 481.0 L1219.1 449.3 L1224.4 444.5 L1229.8 461.4 L1235.2 465.5 L1240.6 455.8 L1245.9 448.5 L1251.3 465.8 L1256.7 437.0 L1262.0 396.9 L1267.4 397.9 L1272.8 400.9 L1278.2 432.6 L1283.5 446.6 L1288.9 448.6 L1294.3 446.6 L1299.6 447.9 L1305.0 441.6 L1310.4 458.9 L1315.7 476.2 L1321.1 463.5 L1326.5 437.9 L1331.9 412.2 L1337.2 522.6 L1342.6 556.7 L1348.0 557.5 L1353.3 495.1 L1358.7 445.2 L1364.1 394.4 L1369.5 366.4 L1374.8 352.7 L1380.2 332.6 L1385.6 311.3 L1390.9 331.1 L1396.3 296.9 L1401.7 315.1 L1407.0 327.0 L1412.4 299.2 L1417.8 318.8 L1423.2 308.4 L1428.5 334.9 L1433.9 332.9 L1439.3 348.7 L1444.6 326.4 L1450.0 314.5 L1455.4 291.5 L1460.7 328.2 L1466.1 349.8 L1471.5 348.5 L1476.9 377.2 L1482.2 332.0 L1487.6 352.0 L1493.0 365.4 L1498.3 362.7 L1503.7 335.4 L1509.1 338.0 L1514.5 330.7 L1519.8 352.7 L1525.2 302.2 L1530.6 296.9 L1535.9 326.1 L1541.3 314.5 L1546.7 316.1 L1552.0 319.5 L1557.4 277.3 L1562.8 298.4 L1568.2 281.3 L1573.5 277.5 L1578.9 288.0 L1584.3 271.3 L1589.6 267.0 L1595.0 280.5 L1600.4 257.6 L1605.8 291.1 L1611.1 261.9 L1616.5 288.5 L1621.9 281.1 L1627.2 301.4 L1632.6 318.3 L1638.0 308.9 L1643.3 291.4 L1648.7 274.5 L1654.1 263.8 L1659.5 264.4 L1664.8 242.5 L1670.2 241.5 L1675.6 246.0 L1680.9 256.6 L1686.3 261.9 L1691.7 299.1 L1697.1 297.3 L1702.4 296.4 L1707.8 277.0 L1713.2 290.1 L1718.5 312.0 L1723.9 326.7 L1729.3 326.5 L1734.6 334.6 L1740.0 317.3 L1745.4 313.8 L1750.8 295.8 L1756.1 271.1 L1761.5 279.7 L1766.9 288.3 L1772.2 313.0 L1777.6 321.4 L1783.0 356.0 L1788.4 356.4 L1793.7 343.1 L1799.1 347.2 L1804.5 351.3 L1809.8 335.1 L1815.2 318.9 L1820.6 319.5" fill="none" stroke="#6060ff" stroke-width="1.3" stroke-linejoin="round"/>
<rect x="1854.75" y="9.9" width="1" height="864.6" fill="#333"/>
<rect x="10" y="619" width="1896" height="2" fill="#727272"/>
<rect x="10" y="853" width="1896" height="1" fill="#1c1c1c"/>
<rect x="1859.3" y="14" width="42.5" height="25.5" rx="4" fill="#fff" stroke="#ececec" stroke-width="1"/>
<text x="1867.6" y="31.6" font-size="12.5" fill="#444" textLength="20.4" lengthAdjust="spacingAndGlyphs">USD</text>
<text x="1859.4" y="75.3" font-size="8.6" fill="#505050" textLength="24" lengthAdjust="spacingAndGlyphs">0.6400</text>
<text x="1859.4" y="103.0" font-size="8.6" fill="#505050" textLength="24" lengthAdjust="spacingAndGlyphs">0.6350</text>
<text x="1859.4" y="131.9" font-size="8.6" fill="#505050" textLength="24" lengthAdjust="spacingAndGlyphs">0.6300</text>
<text x="1859.4" y="159.4" font-size="8.6" fill="#505050" textLength="24" lengthAdjust="spacingAndGlyphs">0.6250</text>
<text x="1859.4" y="187.4" font-size="8.6" fill="#505050" textLength="24" lengthAdjust="spacingAndGlyphs">0.6200</text>
<text x="1859.4" y="215.5" font-size="8.6" fill="#505050" textLength="24" lengthAdjust="spacingAndGlyphs">0.6150</text>
<text x="1859.4" y="244.0" font-size="8.6" fill="#505050" textLength="24" lengthAdjust="spacingAndGlyphs">0.6100</text>
<text x="1859.4" y="271.4" font-size="8.6" fill="#505050" textLength="24" lengthAdjust="spacingAndGlyphs">0.6050</text>
<text x="1859.4" y="299.3" font-size="8.6" fill="#505050" textLength="24" lengthAdjust="spacingAndGlyphs">0.6000</text>
<text x="1859.4" y="328.0" font-size="8.6" fill="#505050" textLength="24" lengthAdjust="spacingAndGlyphs">0.5950</text>
<text x="1859.4" y="355.2" font-size="8.6" fill="#505050" textLength="24" lengthAdjust="spacingAndGlyphs">0.5900</text>
<text x="1859.4" y="383.3" font-size="8.6" fill="#505050" textLength="24" lengthAdjust="spacingAndGlyphs">0.5850</text>
<text x="1859.4" y="411.3" font-size="8.6" fill="#505050" textLength="24" lengthAdjust="spacingAndGlyphs">0.5800</text>
<text x="1859.4" y="439.5" font-size="8.6" fill="#505050" textLength="24" lengthAdjust="spacingAndGlyphs">0.5750</text>
<text x="1859.4" y="467.4" font-size="8.6" fill="#505050" textLength="24" lengthAdjust="spacingAndGlyphs">0.5700</text>
<text x="1859.4" y="495.5" font-size="8.6" fill="#505050" textLength="24" lengthAdjust="spacingAndGlyphs">0.5650</text>
<text x="1859.4" y="524.0" font-size="8.6" fill="#505050" textLength="24" lengthAdjust="spacingAndGlyphs">0.5600</text>
<text x="1859.4" y="551.2" font-size="8.6" fill="#505050" textLength="24" lengthAdjust="spacingAndGlyphs">0.5550</text>
<text x="1859.4" y="579.0" font-size="8.6" fill="#505050" textLength="24" lengthAdjust="spacingAndGlyphs">0.5500</text>
<text x="1859.4" y="606.7" font-size="8.6" fill="#505050" textLength="24" lengthAdjust="spacingAndGlyphs">0.5450</text>
<text x="1859.5" y="829.6" font-size="8.6" fill="#505050" textLength="27.7" lengthAdjust="spacingAndGlyphs">10.0000</text>
<text x="1859.5" y="807.3" font-size="8.6" fill="#505050" textLength="27.7" lengthAdjust="spacingAndGlyphs">20.0000</text>
<text x="1859.5" y="785.3" font-size="8.6" fill="#505050" textLength="27.7" lengthAdjust="spacingAndGlyphs">30.0000</text>
<text x="1859.5" y="762.5" font-size="8.6" fill="#505050" textLength="27.7" lengthAdjust="spacingAndGlyphs">40.0000</text>
<text x="1859.5" y="740.8" font-size="8.6" fill="#505050" textLength="27.7" lengthAdjust="spacingAndGlyphs">50.0000</text>
<text x="1859.5" y="719.2" font-size="8.6" fill="#505050" textLength="27.7" lengthAdjust="spacingAndGlyphs">60.0000</text>
<text x="1859.5" y="696.8" font-size="8.6" fill="#505050" textLength="27.7" lengthAdjust="spacingAndGlyphs">70.0000</text>
<text x="1859.5" y="674.8" font-size="8.6" fill="#505050" textLength="27.7" lengthAdjust="spacingAndGlyphs">80.0000</text>
<text x="1859.5" y="652.0" font-size="8.6" fill="#505050" textLength="27.7" lengthAdjust="spacingAndGlyphs">90.0000</text>
<text x="1859.5" y="630.2" font-size="8.6" fill="#505050" textLength="31.3" lengthAdjust="spacingAndGlyphs">100.0000</text>
<rect x="1855.5" y="303.9" width="31.5" height="10.8" rx="1.5" fill="#e91e63"/>
<text x="1860.4" y="312.1" font-size="8" font-weight="bold" fill="#fff" textLength="23.4" lengthAdjust="spacingAndGlyphs">0.5965</text>
<rect x="1855.5" y="314.7" width="31.5" height="10.8" rx="1.5" fill="#3333ff"/>
<text x="1860.4" y="322.9" font-size="8" font-weight="bold" fill="#fff" textLength="23.4" lengthAdjust="spacingAndGlyphs">0.5958</text>
<rect x="1855.3" y="706.8" width="36.8" height="10.5" rx="1.5" fill="#3333ff"/>
<text x="1860.6" y="714.8" font-size="8" font-weight="bold" fill="#fff" textLength="27.6" lengthAdjust="spacingAndGlyphs">62.1138</text>
<rect x="1855.3" y="724.4" width="36.8" height="10.5" rx="1.5" fill="#ff00ff"/>
<text x="1860.6" y="732.4" font-size="8" font-weight="bold" fill="#fff" textLength="27.6" lengthAdjust="spacingAndGlyphs">54.1160</text>
<rect x="1855.3" y="742.3" width="36.8" height="10.5" rx="1.5" fill="#0a7a55"/>
<text x="1860.6" y="750.3" font-size="8" font-weight="bold" fill="#fff" textLength="27.6" lengthAdjust="spacingAndGlyphs">45.8674</text>
<rect x="1855.3" y="754.2" width="36.8" height="10.5" rx="1.5" fill="#5a5a5a"/>
<text x="1860.6" y="762.2" font-size="8" font-weight="bold" fill="#fff" textLength="27.6" lengthAdjust="spacingAndGlyphs">41.3447</text>
<text x="30.6" y="867.2" font-size="8.3" fill="#505050" textLength="14" lengthAdjust="spacingAndGlyphs">May</text>
<text x="155.4" y="867.2" font-size="8.3" fill="#505050" textLength="12" lengthAdjust="spacingAndGlyphs">Jun</text>
<text x="263.1" y="867.2" font-size="8.3" fill="#505050" textLength="10.5" lengthAdjust="spacingAndGlyphs">Jul</text>
<text x="385.9" y="867.2" font-size="8.3" fill="#505050" textLength="12.5" lengthAdjust="spacingAndGlyphs">Aug</text>
<text x="504.2" y="867.2" font-size="8.3" fill="#505050" textLength="12.5" lengthAdjust="spacingAndGlyphs">Sep</text>
<text x="616.6" y="867.2" font-size="8.3" fill="#505050" textLength="12" lengthAdjust="spacingAndGlyphs">Oct</text>
<text x="739.9" y="867.2" font-size="8.3" fill="#505050" textLength="13" lengthAdjust="spacingAndGlyphs">Nov</text>
<text x="853.0" y="867.2" font-size="8.3" fill="#505050" textLength="12.5" lengthAdjust="spacingAndGlyphs">Dec</text>
<text x="969.6" y="867.2" font-size="8.3" fill="#2a2a2a" font-weight="bold" textLength="17.5" lengthAdjust="spacingAndGlyphs">2025</text>
<text x="1095.2" y="867.2" font-size="8.3" fill="#505050" textLength="12.5" lengthAdjust="spacingAndGlyphs">Feb</text>
<text x="1201.9" y="867.2" font-size="8.3" fill="#505050" textLength="13" lengthAdjust="spacingAndGlyphs">Mar</text>
<text x="1315.5" y="867.2" font-size="8.3" fill="#505050" textLength="12" lengthAdjust="spacingAndGlyphs">Apr</text>
<text x="1432.4" y="867.2" font-size="8.3" fill="#505050" textLength="14" lengthAdjust="spacingAndGlyphs">May</text>
<text x="1552.4" y="867.2" font-size="8.3" fill="#505050" textLength="12" lengthAdjust="spacingAndGlyphs">Jun</text>
<text x="1665.2" y="867.2" font-size="8.3" fill="#505050" textLength="10.5" lengthAdjust="spacingAndGlyphs">Jul</text>
<text x="1787.0" y="867.2" font-size="8.3" fill="#505050" textLength="12.5" lengthAdjust="spacingAndGlyphs">Aug</text>
<text x="18.2" y="29.7" font-size="12" fill="#3c3c3c" textLength="36.5" lengthAdjust="spacingAndGlyphs">FOREX</text>
<text x="58.9" y="29.7" font-size="12" fill="#3c3c3c" textLength="33.4" lengthAdjust="spacingAndGlyphs">NZD=,</text>
<text x="98.1" y="29.7" font-size="12" fill="#3c3c3c" textLength="17.6" lengthAdjust="spacingAndGlyphs">1D,</text>
<text x="121.1" y="29.7" font-size="12" fill="#3c3c3c" textLength="25.5" lengthAdjust="spacingAndGlyphs">NYS,</text>
<text x="152" y="29.7" font-size="12" fill="#3c3c3c" textLength="16.4" lengthAdjust="spacingAndGlyphs">Bid</text>
<text x="177.4" y="29.7" font-size="12" fill="#4d4dff" textLength="37.5" lengthAdjust="spacingAndGlyphs">0.5958</text>
<text x="224.3" y="29.7" font-size="12" fill="#4d4dff" textLength="40.4" lengthAdjust="spacingAndGlyphs">-0.0001</text>
<text x="271.7" y="29.7" font-size="12" fill="#4d4dff" textLength="47.0" lengthAdjust="spacingAndGlyphs">(−0.02%)</text>
<text x="337.2" y="29.7" font-size="12" fill="#3c3c3c" textLength="16.4" lengthAdjust="spacingAndGlyphs">MA</text>
<text x="359.1" y="29.7" font-size="12" fill="#3c3c3c" textLength="20.4" lengthAdjust="spacingAndGlyphs">(25,</text>
<text x="385.2" y="29.7" font-size="12" fill="#3c3c3c" textLength="32.4" lengthAdjust="spacingAndGlyphs">close,</text>
<text x="422.8" y="29.7" font-size="12" fill="#3c3c3c" textLength="10.1" lengthAdjust="spacingAndGlyphs">0)</text>
<text x="441.9" y="29.7" font-size="12" fill="#eb3c6e" textLength="37.6" lengthAdjust="spacingAndGlyphs">0.5965</text>
<text x="18.4" y="639.9" font-size="12" fill="#3c3c3c" textLength="15.8" lengthAdjust="spacingAndGlyphs">RSI</text>
<text x="40.1" y="639.9" font-size="12" fill="#3c3c3c" textLength="14.2" lengthAdjust="spacingAndGlyphs">(9,</text>
<text x="59.6" y="639.9" font-size="12" fill="#3c3c3c" textLength="71.0" lengthAdjust="spacingAndGlyphs">Exponential,</text>
<text x="135.3" y="639.9" font-size="12" fill="#3c3c3c" textLength="41.7" lengthAdjust="spacingAndGlyphs">Simple,</text>
<text x="183.7" y="639.9" font-size="12" fill="#3c3c3c" textLength="16.4" lengthAdjust="spacingAndGlyphs">14)</text>
<text x="208.7" y="639.9" font-size="12" fill="#5c5cff" textLength="44.3" lengthAdjust="spacingAndGlyphs">62.1138</text>
<text x="261.7" y="639.9" font-size="12" fill="#2e8b68" textLength="44.8" lengthAdjust="spacingAndGlyphs">45.8674</text>
<text x="325" y="639.9" font-size="12" fill="#3c3c3c" textLength="15.9" lengthAdjust="spacingAndGlyphs">RSI</text>
<text x="346.7" y="639.9" font-size="12" fill="#3c3c3c" textLength="20.9" lengthAdjust="spacingAndGlyphs">(14,</text>
<text x="373.1" y="639.9" font-size="12" fill="#3c3c3c" textLength="71.0" lengthAdjust="spacingAndGlyphs">Exponential,</text>
<text x="449" y="639.9" font-size="12" fill="#3c3c3c" textLength="41.7" lengthAdjust="spacingAndGlyphs">Simple,</text>
<text x="497.1" y="639.9" font-size="12" fill="#3c3c3c" textLength="17.0" lengthAdjust="spacingAndGlyphs">25)</text>
<text x="522.4" y="639.9" font-size="12" fill="#ff33ff" textLength="44.8" lengthAdjust="spacingAndGlyphs">54.1160</text>
<text x="575.6" y="639.9" font-size="12" fill="#5a5a5a" textLength="44.2" lengthAdjust="spacingAndGlyphs">41.3447</text>
<text x="1866.8" y="899.8" font-size="16" font-weight="bold" fill="#0a1eff" stroke="#0a1eff" stroke-width="0.35" textLength="38.6" lengthAdjust="spacingAndGlyphs">LSEG</text>
<g><rect x="1833.0" y="885.0" width="1" height="1" fill="#0a1eff" fill-opacity="0.5"/><rect x="1837.0" y="885.0" width="2" height="1" fill="#0a1eff" fill-opacity="0.6"/><rect x="1855.0" y="885.0" width="2" height="1" fill="#0a1eff" fill-opacity="0.5"/><rect x="1833.0" y="886.0" width="2" height="1" fill="#0a1eff" fill-opacity="0.8"/><rect x="1836.0" y="886.0" width="4" height="1" fill="#0a1eff" fill-opacity="0.9"/><rect x="1842.0" y="886.0" width="1" height="1" fill="#0a1eff" fill-opacity="0.8"/><rect x="1854.0" y="886.0" width="6" height="1" fill="#0a1eff" fill-opacity="0.9"/><rect x="1833.0" y="887.0" width="8" height="1" fill="#0a1eff" fill-opacity="1"/><rect x="1842.0" y="887.0" width="2" height="1" fill="#0a1eff" fill-opacity="0.7"/><rect x="1851.0" y="887.0" width="2" height="1" fill="#0a1eff" fill-opacity="0.8"/><rect x="1853.0" y="887.0" width="4" height="1" fill="#0a1eff" fill-opacity="1"/><rect x="1857.0" y="887.0" width="1" height="1" fill="#0a1eff" fill-opacity="0.5"/><rect x="1858.0" y="887.0" width="3" height="1" fill="#0a1eff" fill-opacity="1"/><rect x="1832.0" y="888.0" width="7" height="1" fill="#0a1eff" fill-opacity="1"/><rect x="1839.0" y="888.0" width="3" height="1" fill="#0a1eff" fill-opacity="0.6"/><rect x="1842.0" y="888.0" width="9" height="1" fill="#0a1eff" fill-opacity="1"/><rect x="1851.0" y="888.0" width="2" height="1" fill="#0a1eff" fill-opacity="0.8"/><rect x="1853.0" y="888.0" width="4" height="1" fill="#0a1eff" fill-opacity="1"/><rect x="1857.0" y="888.0" width="1" height="1" fill="#0a1eff" fill-opacity="0.5"/><rect x="1858.0" y="888.0" width="3" height="1" fill="#0a1eff" fill-opacity="1"/><rect x="1832.0" y="889.0" width="8" height="1" fill="#0a1eff" fill-opacity="1"/><rect x="1840.0" y="889.0" width="2" height="1" fill="#0a1eff" fill-opacity="0.6"/><rect x="1842.0" y="889.0" width="10" height="1" fill="#0a1eff" fill-opacity="1"/><rect x="1852.0" y="889.0" width="1" height="1" fill="#0a1eff" fill-opacity="0.6"/><rect x="1853.0" y="889.0" width="8" height="1" fill="#0a1eff" fill-opacity="1"/><rect x="1833.0" y="890.0" width="3" height="1" fill="#0a1eff" fill-opacity="1"/><rect x="1836.0" y="890.0" width="2" height="1" fill="#0a1eff" fill-opacity="0.4"/><rect x="1838.0" y="890.0" width="7" height="1" fill="#0a1eff" fill-opacity="1"/><rect x="1845.0" y="890.0" width="4" height="1" fill="#0a1eff" fill-opacity="0.5"/><rect x="1849.0" y="890.0" width="3" height="1" fill="#0a1eff" fill-opacity="1"/><rect x="1852.0" y="890.0" width="1" height="1" fill="#0a1eff" fill-opacity="0.6"/><rect x="1853.0" y="890.0" width="3" height="1" fill="#0a1eff" fill-opacity="1"/><rect x="1856.0" y="890.0" width="1" height="1" fill="#0a1eff" fill-opacity="0.4"/><rect x="1857.0" y="890.0" width="4" height="1" fill="#0a1eff" fill-opacity="1"/><rect x="1834.0" y="891.0" width="18" height="1" fill="#0a1eff" fill-opacity="1"/><rect x="1852.0" y="891.0" width="1" height="1" fill="#0a1eff" fill-opacity="0.6"/><rect x="1853.0" y="891.0" width="8" height="1" fill="#0a1eff" fill-opacity="0.95"/><rect x="1835.0" y="892.0" width="3" height="1" fill="#0a1eff" fill-opacity="1"/><rect x="1838.0" y="892.0" width="3" height="1" fill="#0a1eff" fill-opacity="0.5"/><rect x="1841.0" y="892.0" width="5" height="1" fill="#0a1eff" fill-opacity="1"/><rect x="1846.0" y="892.0" width="2" height="1" fill="#0a1eff" fill-opacity="0.4"/><rect x="1848.0" y="892.0" width="4" height="1" fill="#0a1eff" fill-opacity="1"/><rect x="1852.0" y="892.0" width="1" height="1" fill="#0a1eff" fill-opacity="0.6"/><rect x="1853.0" y="892.0" width="6" height="1" fill="#0a1eff" fill-opacity="1"/><rect x="1833.0" y="893.0" width="2" height="1" fill="#0a1eff" fill-opacity="0.7"/><rect x="1837.0" y="893.0" width="2" height="1" fill="#0a1eff" fill-opacity="1"/><rect x="1839.0" y="893.0" width="2" height="1" fill="#0a1eff" fill-opacity="0.3"/><rect x="1841.0" y="893.0" width="4" height="1" fill="#0a1eff" fill-opacity="0.9"/><rect x="1845.0" y="893.0" width="1" height="1" fill="#0a1eff" fill-opacity="0.6"/><rect x="1847.0" y="893.0" width="2" height="1" fill="#0a1eff" fill-opacity="0.5"/><rect x="1849.0" y="893.0" width="6" height="1" fill="#0a1eff" fill-opacity="1"/><rect x="1855.0" y="893.0" width="3" height="1" fill="#0a1eff" fill-opacity="0.9"/><rect x="1859.0" y="893.0" width="2" height="1" fill="#0a1eff" fill-opacity="0.7"/><rect x="1832.0" y="894.0" width="3" height="1" fill="#0a1eff" fill-opacity="0.7"/><rect x="1836.0" y="894.0" width="3" height="1" fill="#0a1eff" fill-opacity="1"/><rect x="1841.0" y="894.0" width="2" height="1" fill="#0a1eff" fill-opacity="0.9"/><rect x="1844.0" y="894.0" width="1" height="1" fill="#0a1eff" fill-opacity="0.7"/><rect x="1846.0" y="894.0" width="3" height="1" fill="#0a1eff" fill-opacity="0.5"/><rect x="1849.0" y="894.0" width="3" height="1" fill="#0a1eff" fill-opacity="1"/><rect x="1852.0" y="894.0" width="2" height="1" fill="#0a1eff" fill-opacity="0.3"/><rect x="1854.0" y="894.0" width="4" height="1" fill="#0a1eff" fill-opacity="1"/><rect x="1859.0" y="894.0" width="2" height="1" fill="#0a1eff" fill-opacity="0.7"/><rect x="1836.0" y="895.0" width="3" height="1" fill="#0a1eff" fill-opacity="0.9"/><rect x="1839.0" y="895.0" width="2" height="1" fill="#0a1eff" fill-opacity="0.8"/><rect x="1842.0" y="895.0" width="2" height="1" fill="#0a1eff" fill-opacity="0.9"/><rect x="1846.0" y="895.0" width="3" height="1" fill="#0a1eff" fill-opacity="0.6"/><rect x="1849.0" y="895.0" width="4" height="1" fill="#0a1eff" fill-opacity="1"/><rect x="1855.0" y="895.0" width="4" height="1" fill="#0a1eff" fill-opacity="1"/><rect x="1859.0" y="895.0" width="1" height="1" fill="#0a1eff" fill-opacity="0.6"/><rect x="1835.0" y="896.0" width="3" height="1" fill="#0a1eff" fill-opacity="0.9"/><rect x="1839.0" y="896.0" width="2" height="1" fill="#0a1eff" fill-opacity="0.9"/><rect x="1843.0" y="896.0" width="2" height="1" fill="#0a1eff" fill-opacity="0.8"/><rect x="1845.0" y="896.0" width="5" height="1" fill="#0a1eff" fill-opacity="0.9"/><rect x="1850.0" y="896.0" width="4" height="1" fill="#0a1eff" fill-opacity="0.9"/><rect x="1856.0" y="896.0" width="4" height="1" fill="#0a1eff" fill-opacity="0.9"/><rect x="1834.0" y="897.0" width="3" height="1" fill="#0a1eff" fill-opacity="0.7"/><rect x="1839.0" y="897.0" width="3" height="1" fill="#0a1eff" fill-opacity="0.9"/><rect x="1843.0" y="897.0" width="8" height="1" fill="#0a1eff" fill-opacity="1"/><rect x="1852.0" y="897.0" width="2" height="1" fill="#0a1eff" fill-opacity="0.8"/><rect x="1856.0" y="897.0" width="4" height="1" fill="#0a1eff" fill-opacity="0.7"/><rect x="1835.0" y="898.0" width="3" height="1" fill="#0a1eff" fill-opacity="0.8"/><rect x="1843.0" y="898.0" width="8" height="1" fill="#0a1eff" fill-opacity="1"/><rect x="1852.0" y="898.0" width="1" height="1" fill="#0a1eff" fill-opacity="0.6"/><rect x="1857.0" y="898.0" width="2" height="1" fill="#0a1eff" fill-opacity="0.9"/><rect x="1835.0" y="899.0" width="3" height="1" fill="#0a1eff" fill-opacity="0.8"/><rect x="1844.0" y="899.0" width="7" height="1" fill="#0a1eff" fill-opacity="1"/><rect x="1855.0" y="899.0" width="4" height="1" fill="#0a1eff" fill-opacity="0.8"/><rect x="1835.0" y="900.0" width="2" height="1" fill="#0a1eff" fill-opacity="0.7"/><rect x="1845.0" y="900.0" width="5" height="1" fill="#0a1eff" fill-opacity="1"/><rect x="1856.0" y="900.0" width="2" height="1" fill="#0a1eff" fill-opacity="0.8"/><rect x="1835.0" y="901.0" width="1" height="1" fill="#0a1eff" fill-opacity="0.5"/><rect x="1838.0" y="901.0" width="3" height="1" fill="#0a1eff" fill-opacity="0.7"/><rect x="1843.0" y="901.0" width="1" height="1" fill="#0a1eff" fill-opacity="0.7"/><rect x="1850.0" y="901.0" width="2" height="1" fill="#0a1eff" fill-opacity="0.8"/><rect x="1856.0" y="901.0" width="1" height="1" fill="#0a1eff" fill-opacity="0.6"/><rect x="1839.0" y="902.0" width="1" height="1" fill="#0a1eff" fill-opacity="0.7"/><rect x="1843.0" y="902.0" width="1" height="1" fill="#0a1eff" fill-opacity="0.6"/><rect x="1848.0" y="902.0" width="1" height="1" fill="#0a1eff" fill-opacity="0.5"/><rect x="1850.0" y="902.0" width="2" height="1" fill="#0a1eff" fill-opacity="0.8"/><rect x="1854.0" y="902.0" width="1" height="1" fill="#0a1eff" fill-opacity="0.6"/><rect x="1846.0" y="903.0" width="3" height="1" fill="#0a1eff" fill-opacity="0.7"/></g>
</svg>
</body></html>
